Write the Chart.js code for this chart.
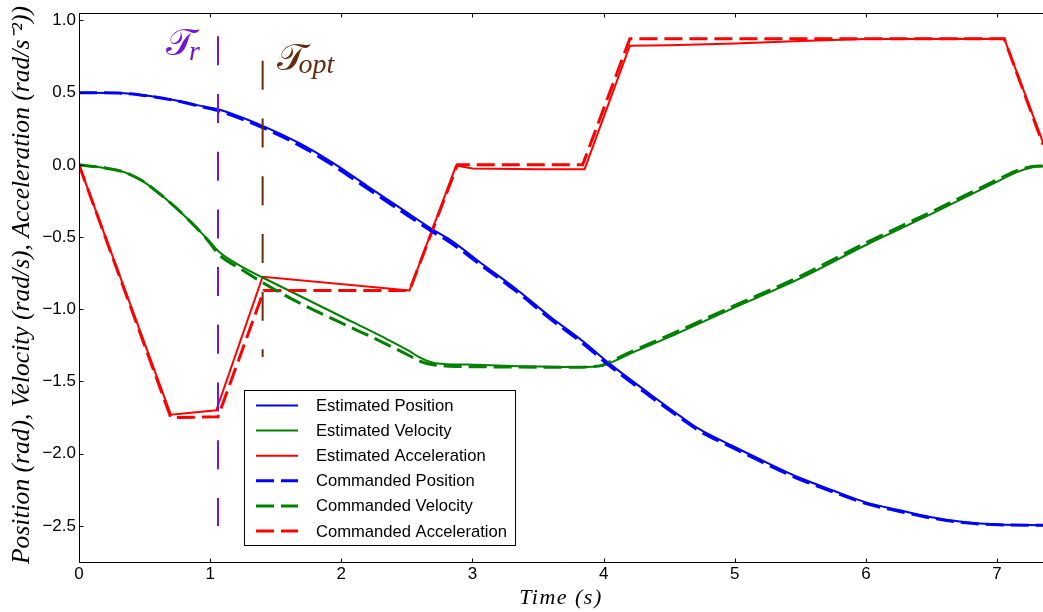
<!DOCTYPE html>
<html><head><meta charset="utf-8">
<script src="https://cdn.jsdelivr.net/npm/chart.js@4.4.1/dist/chart.umd.min.js"></script>
<style>html,body{margin:0;padding:0;background:#fff}#wrap{width:1043px;height:612px;position:relative}</style>
</head><body><div id="wrap"><canvas id="c" width="1043" height="612"></canvas></div>
<script>
// ---- data ----
const xTicks = [0, 1, 2, 3, 4, 5, 6, 7];
const yTicks = [1.0, 0.5, 0.0, -0.5, -1.0, -1.5, -2.0, -2.5];

const posTime = [0, 0.3, 0.54, 0.77, 0.92, 1.06, 1.40, 1.68, 1.93, 2.19, 2.44, 2.70, 2.83, 3.08, 3.34, 3.59, 3.84, 4.05, 4.35, 4.60, 4.73, 4.98, 5.24, 5.49, 5.75, 6.00, 6.25, 6.50, 6.76, 7.01, 7.35];
const estPosition = [0.5, 0.497, 0.476, 0.44, 0.41, 0.385, 0.27, 0.15, 0.017, -0.142, -0.293, -0.45, -0.52, -0.69, -0.865, -1.05, -1.22, -1.38, -1.585, -1.75, -1.83, -1.945, -2.06, -2.165, -2.255, -2.337, -2.39, -2.44, -2.475, -2.49, -2.495];
const cmdPosition = [0.5, 0.497, 0.475, 0.438, 0.405, 0.375, 0.258, 0.135, 0.0, -0.158, -0.31, -0.466, -0.537, -0.705, -0.88, -1.065, -1.235, -1.395, -1.6, -1.762, -1.843, -1.957, -2.072, -2.176, -2.265, -2.345, -2.398, -2.446, -2.479, -2.492, -2.496];

const velTime = [0, 0.22, 0.35, 0.48, 0.60, 0.73, 0.857, 0.985, 1.065, 1.24, 1.40, 1.70, 2.00, 2.30, 2.52, 2.60, 2.70, 2.80, 2.95, 3.30, 3.715, 3.97, 4.045, 4.22, 4.48, 4.98, 5.49, 6.00, 6.50, 7.02, 7.15, 7.27, 7.35];
const estVelocity = [0, -0.025, -0.052, -0.109, -0.19, -0.29, -0.40, -0.52, -0.60, -0.705, -0.78, -0.915, -1.05, -1.185, -1.29, -1.335, -1.37, -1.38, -1.383, -1.392, -1.40, -1.394, -1.373, -1.30, -1.20, -0.995, -0.79, -0.555, -0.34, -0.107, -0.05, -0.017, -0.01];
const cmdVelocity = [0, -0.025, -0.052, -0.109, -0.19, -0.29, -0.40, -0.525, -0.62, -0.725, -0.815, -0.965, -1.095, -1.222, -1.322, -1.36, -1.385, -1.393, -1.397, -1.40, -1.402, -1.392, -1.365, -1.29, -1.187, -0.982, -0.775, -0.54, -0.325, -0.095, -0.04, -0.012, -0.008];

const estAccTime = [0, 0.70, 1.047, 1.40, 2.52, 2.875, 3.0, 3.5, 3.855, 4.20, 4.5, 5.0, 5.5, 6.0, 7.055, 7.35];
const estAcceleration = [0, -1.73, -1.70, -0.775, -0.87, -0.005, -0.025, -0.03, -0.03, 0.825, 0.828, 0.84, 0.858, 0.872, 0.873, 0.155];
const cmdAccTime = [0, 0.70, 1.06, 1.41, 2.52, 2.885, 3.84, 4.20, 7.055, 7.35];
const cmdAcceleration = [0, -1.75, -1.745, -0.87, -0.87, 0.0, 0.0, 0.873, 0.873, 0.14];

const markerTime = [1.06, 1.40];          // T_r, T_opt
const markerTop = [0.89, 0.72];
const markerBottom = [-2.5, -1.33];
const markerNames = ['r', 'opt'];

const X_MIN = 0, X_MAX = 7.35, Y_MIN = -2.75, Y_MAX = 1.05;

// ---- styles ----
const BLUE = '#0000ff', GREEN = '#008000', RED = '#ff0000';
const PURPLE = '#7414d8', BROWN = '#662a0c';
const DASH = [18, 7];
const SANS = '"Liberation Sans", Arial, sans-serif';
const SERIF = '"Liberation Serif", "Times New Roman", serif';

const pts = (ts, vs) => ts.map((t, i) => ({ x: t, y: vs[i] }));

function est(label, ts, vs, color) {
  return { label, data: pts(ts, vs), borderColor: color, backgroundColor: color, borderWidth: 2,
    showLine: true, fill: false, pointRadius: 0, inLegend: true, order: 3 };
}
function cmd(label, ts, vs, color) {
  return { label, data: pts(ts, vs), borderColor: color, backgroundColor: color, borderWidth: 3,
    borderDash: DASH, showLine: true, fill: false, pointRadius: 0, inLegend: true, order: 2 };
}

const datasets = [
  Object.assign(est('Estimated Position', posTime, estPosition, BLUE), { cubicInterpolationMode: 'monotone' }),
  Object.assign(est('Estimated Velocity', velTime, estVelocity, GREEN), { cubicInterpolationMode: 'monotone' }),
  est('Estimated Acceleration', estAccTime, estAcceleration, RED),
  Object.assign(cmd('Commanded Position', posTime, cmdPosition, BLUE), { cubicInterpolationMode: 'monotone' }),
  Object.assign(cmd('Commanded Velocity', velTime, cmdVelocity, GREEN), { cubicInterpolationMode: 'monotone' }),
  cmd('Commanded Acceleration', cmdAccTime, cmdAcceleration, RED),
];
const markerColors = [PURPLE, BROWN];
markerTime.forEach((t, i) => {
  datasets.push({ label: 'marker' + i, data: [{ x: t, y: markerTop[i] }, { x: t, y: markerBottom[i] }],
    borderColor: markerColors[i], borderWidth: 2, borderDash: [29, 28.7], showLine: true, pointRadius: 0,
    inLegend: false, order: 1 });
});

const fmtY = v => (Math.abs(v) < 1e-9 ? '0.0' : (v < 0 ? '\u2212' : '') + Math.abs(v).toFixed(1));

const framePlugin = {
  id: 'frame',
  afterDraw(chart) {
    const { ctx, chartArea: a, scales } = chart;
    ctx.save();
    ctx.strokeStyle = '#000'; ctx.lineWidth = 1;
    const L = Math.round(a.left) + 0.5, T = Math.round(a.top) + 0.5, B = Math.round(a.bottom) + 0.5, R = a.right;
    ctx.beginPath();
    ctx.moveTo(R, T); ctx.lineTo(L, T); ctx.lineTo(L, B); ctx.lineTo(R, B);
    ctx.stroke();
    ctx.beginPath();
    xTicks.forEach(v => {
      const x = Math.round(scales.x.getPixelForValue(v)) + 0.5;
      ctx.moveTo(x, B); ctx.lineTo(x, B - 4);
      ctx.moveTo(x, T); ctx.lineTo(x, T + 4);
    });
    yTicks.forEach(v => {
      const y = Math.round(scales.y.getPixelForValue(v)) + 0.5;
      ctx.moveTo(L, y); ctx.lineTo(L + 4, y);
    });
    ctx.stroke();
    ctx.restore();
  }
};

const legendPlugin = {
  id: 'boxLegend',
  afterDraw(chart) {
    const ctx = chart.ctx;
    const items = chart.data.datasets.filter(d => d.inLegend);
    const bx = 244.5, by = 390.5, bw = 271, bh = 155;
    ctx.save();
    ctx.fillStyle = '#fff'; ctx.fillRect(bx, by, bw, bh);
    ctx.strokeStyle = '#000'; ctx.lineWidth = 1; ctx.strokeRect(bx, by, bw, bh);
    items.forEach((d, i) => {
      const y = 405.5 + i * 25.1;
      ctx.beginPath();
      ctx.setLineDash(d.borderDash || []);
      ctx.strokeStyle = d.borderColor; ctx.lineWidth = d.borderWidth;
      ctx.moveTo(256, y); ctx.lineTo(298, y); ctx.stroke();
      ctx.setLineDash([]);
      ctx.fillStyle = '#000'; ctx.font = '16.6px ' + SANS; ctx.textBaseline = 'middle'; ctx.textAlign = 'left';
      ctx.fillText(d.label, 316, y + 1);
    });
    ctx.restore();
  }
};

const textPlugin = {
  id: 'texts',
  afterDraw(chart) {
    const { ctx, chartArea: a, scales } = chart;
    ctx.save();
    ctx.fillStyle = '#000';
    // x title
    ctx.font = 'italic 22px ' + SERIF; ctx.textAlign = 'center'; ctx.textBaseline = 'alphabetic';
    try { ctx.letterSpacing = '1.5px'; } catch (e) {}
    ctx.fillText('Time (s)', (a.left + a.right) / 2, 604);
    try { ctx.letterSpacing = '0px'; } catch (e) {}
    // y title, fitted to the height of the axes
    const yt = 'Position (rad), Velocity (rad/s), Acceleration (rad/s\u207B\u00B2))';
    let fs = 20; ctx.font = 'italic ' + fs + 'px ' + SERIF;
    fs = fs * 558 / ctx.measureText(yt).width;
    ctx.font = 'italic ' + fs.toFixed(2) + 'px ' + SERIF;
    ctx.translate(29, 285); ctx.rotate(-Math.PI / 2);
    ctx.fillText(yt, 0, 0);
    ctx.restore();
    // marker labels
    ctx.save();
    ctx.textAlign = 'left'; ctx.textBaseline = 'alphabetic';
    const sx0 = scales.x.getPixelForValue(markerTime[0]);
    const sx1 = scales.x.getPixelForValue(markerTime[1]);
    const SCRIPT = '"DejaVu Serif", "DejaVu Sans", "Noto Sans", serif';
    ctx.fillStyle = PURPLE;
    ctx.font = '38px ' + SCRIPT; ctx.fillText('\u{1D4AF}', sx0 - 52, 55);
    ctx.font = 'italic 28px ' + SERIF; ctx.fillText(markerNames[0], sx0 - 29, 60);
    ctx.fillStyle = BROWN;
    ctx.font = '38px ' + SCRIPT; ctx.fillText('\u{1D4AF}', sx1 + 14, 70);
    ctx.font = 'italic 28px ' + SERIF; ctx.fillText(markerNames[1], sx1 + 36, 73);
    ctx.restore();
  }
};

new Chart(document.getElementById('c').getContext('2d'), {
  type: 'scatter',
  data: { datasets },
  options: {
    responsive: false, animation: false, devicePixelRatio: 1,
    layout: { padding: { top: 10, right: 0, bottom: 0, left: 0 } },
    plugins: { legend: { display: false }, tooltip: { enabled: false } },
    elements: { point: { radius: 0 }, line: { tension: 0 } },
    scales: {
      x: {
        type: 'linear', min: X_MIN, max: X_MAX,
        afterBuildTicks: s => { s.ticks = xTicks.map(v => ({ value: v })); },
        afterFit: s => { s.height = 50; },
        grid: { display: false, drawTicks: false }, border: { display: false },
        ticks: { padding: 2, color: '#000', font: { family: SANS, size: 17 }, maxRotation: 0, autoSkip: false,
          callback: v => String(v) }
      },
      y: {
        type: 'linear', min: Y_MIN, max: Y_MAX,
        afterBuildTicks: s => { s.ticks = yTicks.map(v => ({ value: v })); },
        afterFit: s => { s.width = 79; },
        grid: { display: false, drawTicks: false }, border: { display: false },
        ticks: { padding: 3, color: '#000', font: { family: SANS, size: 17 }, autoSkip: false,
          callback: v => fmtY(v) }
      }
    }
  },
  plugins: [framePlugin, legendPlugin, textPlugin]
});
</script></body></html>
